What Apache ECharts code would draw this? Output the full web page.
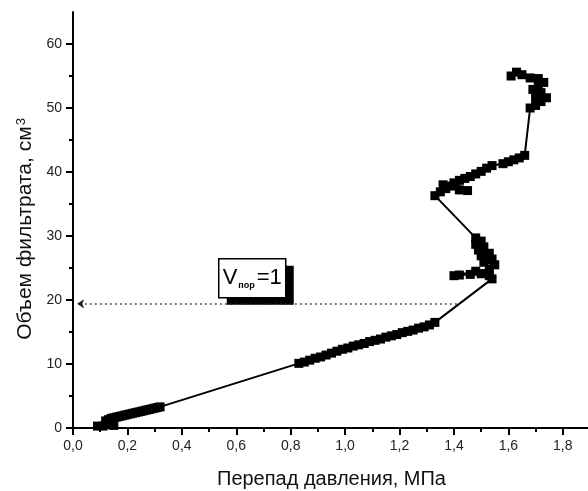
<!DOCTYPE html>
<html>
<head>
<meta charset="utf-8">
<script src="https://cdn.jsdelivr.net/npm/echarts@6.0.0/dist/echarts.min.js"></script>
<style>
  html, body { margin: 0; padding: 0; background: #fff; }
  #chart { width: 588px; height: 491px; }
</style>
</head>
<body>
<div id="chart"></div>
<script>
// перепад давления, МПа
let pressure = [
  0.09, 0.11, 0.13, 0.15, 0.12, 0.13, 0.14, 0.15, 0.16, 0.17, 0.18, 0.19, 0.20, 0.21, 0.22, 0.23,
  0.24, 0.25, 0.26, 0.27, 0.28, 0.29, 0.30, 0.31, 0.32,
  0.83, 0.85, 0.87, 0.89, 0.91, 0.93, 0.95, 0.97, 0.99, 1.01, 1.03, 1.05, 1.07, 1.09, 1.11, 1.13,
  1.15, 1.17, 1.19, 1.21, 1.23, 1.25, 1.27, 1.29, 1.31, 1.33,
  1.54, 1.53, 1.50, 1.46, 1.42, 1.40, 1.48, 1.53, 1.55, 1.51, 1.54, 1.50, 1.53, 1.49, 1.51, 1.48,
  1.50, 1.48,
  1.33, 1.35, 1.37, 1.36, 1.39, 1.42, 1.45, 1.40, 1.42, 1.44, 1.46, 1.48, 1.50, 1.52, 1.54, 1.58,
  1.60, 1.62, 1.64, 1.66,
  1.68, 1.70, 1.72, 1.74, 1.70, 1.72, 1.69, 1.71, 1.73, 1.71, 1.68, 1.65, 1.63, 1.61
]
// объем фильтрата, см3
let volume = [
  0.3, 0.3, 0.5, 0.4, 1.1, 1.3, 1.5, 1.6, 1.7, 1.8, 1.9, 2.0, 2.1, 2.2, 2.3, 2.4,
  2.5, 2.6, 2.7, 2.8, 2.9, 3.0, 3.1, 3.2, 3.3,
  10.1, 10.3, 10.6, 10.9, 11.1, 11.4, 11.7, 12.0, 12.3, 12.5, 12.8, 13.0, 13.2, 13.5, 13.7, 13.9,
  14.2, 14.4, 14.6, 14.9, 15.1, 15.3, 15.6, 15.8, 16.1, 16.5,
  23.3, 23.8, 24.1, 24.0, 23.9, 23.8, 24.5, 24.8, 25.5, 25.9, 26.4, 26.9, 27.3, 27.8, 28.3, 28.7,
  29.2, 29.7,
  36.3, 36.9, 37.4, 38.0, 37.8, 37.2, 37.1, 38.3, 38.7, 39.0, 39.3, 39.7, 40.1, 40.6, 41.0, 41.3,
  41.6, 41.9, 42.2, 42.6,
  50.0, 50.4, 51.0, 51.6, 51.8, 52.4, 52.9, 53.4, 54.0, 54.6, 54.7, 55.2, 55.6, 55.0
]

let xTicks = [0, 0.2, 0.4, 0.6, 0.8, 1.0, 1.2, 1.4, 1.6, 1.8]
let xMinor = [0.1, 0.3, 0.5, 0.7, 0.9, 1.1, 1.3, 1.5, 1.7]
let yTicks = [0, 10, 20, 30, 40, 50, 60]
let yMinor = [5, 15, 25, 35, 45, 55]

// V пор = 1
let threshold = 19.4
let thresholdX = 1.41

let font = "'Liberation Sans', Arial, sans-serif"
let points = pressure.map((p, i) => [p, volume[i]])

let lineAxis = { show: true, onZero: false, lineStyle: { color: '#000', width: 2 } }
let noSplit = { show: false }

let chart = echarts.init(document.getElementById('chart'), null, { renderer: 'canvas' })
chart.setOption({
  animation: false,
  backgroundColor: '#fff',
  textStyle: { fontFamily: font },
  grid: { left: 73, right: -2, top: 12, bottom: 63, outerBoundsMode: 'none', containLabel: false },
  xAxis: [
    {
      type: 'value', min: 0, max: 1.9, position: 'bottom',
      axisLine: lineAxis,
      axisTick: { customValues: xTicks, length: 7, lineStyle: { color: '#000', width: 2 } },
      axisLabel: {
        customValues: xTicks, margin: 11, fontSize: 14, color: '#222', fontFamily: font,
        formatter: v => v.toFixed(1).replace('.', ',')
      },
      splitLine: noSplit,
      name: 'Перепад давления, МПа', nameLocation: 'middle', nameGap: 41,
      nameTextStyle: { fontSize: 20, color: '#111', fontFamily: font }
    },
    {
      type: 'value', min: 0, max: 1.9, position: 'bottom',
      axisLine: { show: false, onZero: false },
      axisTick: { customValues: xMinor, length: 4, lineStyle: { color: '#000', width: 2 } },
      axisLabel: { show: false },
      splitLine: noSplit
    }
  ],
  yAxis: [
    {
      type: 'value', min: 0, max: 65, position: 'left',
      axisLine: lineAxis,
      axisTick: { customValues: yTicks, length: 7, lineStyle: { color: '#000', width: 2 } },
      axisLabel: { customValues: yTicks, margin: 11, fontSize: 14, color: '#222', fontFamily: font },
      splitLine: noSplit,
      name: 'Объем фильтрата, см{sup|3}', nameLocation: 'middle', nameGap: 36,
      nameTextStyle: {
        fontSize: 21, color: '#111', fontFamily: font, padding: [0, 18, 0, 0],
        rich: { sup: { fontSize: 13, color: '#111', fontFamily: font, verticalAlign: 'top', padding: [0, 0, 6, 1] } }
      }
    },
    {
      type: 'value', min: 0, max: 65, position: 'left',
      axisLine: { show: false, onZero: false },
      axisTick: { customValues: yMinor, length: 4, lineStyle: { color: '#000', width: 2 } },
      axisLabel: { show: false },
      splitLine: noSplit
    }
  ],
  series: [
    {
      type: 'line',
      xAxisIndex: 0, yAxisIndex: 0,
      data: points,
      symbol: 'rect', symbolSize: 9,
      showAllSymbol: true,
      itemStyle: { color: '#000' },
      lineStyle: { color: '#000', width: 2 },
      markLine: {
        silent: true,
        symbol: ['none', 'arrow'],
        symbolSize: 7,
        label: { show: false },
        lineStyle: { color: '#222', width: 1.5, type: [1.5, 3.5] },
        data: [[{ coord: [thresholdX, threshold] }, { coord: [0.015, threshold] }]]
      }
    }
  ],
  graphic: [
    // подпись с тенью
    {
      type: 'group', left: 218, top: 258, z: 100,
      children: [
        { type: 'rect', shape: { x: 8, y: 7, width: 67, height: 39 }, style: { fill: '#000' } },
        { type: 'rect', shape: { x: 0, y: 0, width: 67, height: 39 }, style: { fill: '#fff', stroke: '#000', lineWidth: 1.5 } },
        {
          type: 'text', x: 33.5, y: 19.5,
          style: {
            text: '{v|V}{s|пор}{v|=1}',
            align: 'center', verticalAlign: 'middle',
            rich: {
              v: { fontSize: 22, fontFamily: font, fill: '#000', lineHeight: 24 },
              s: { fontSize: 9, fontWeight: 'bold', fontFamily: font, fill: '#000', verticalAlign: 'bottom', padding: [0, 2, 0, 1] }
            }
          }
        }
      ]
    }
  ]
})
</script>
</body>
</html>
